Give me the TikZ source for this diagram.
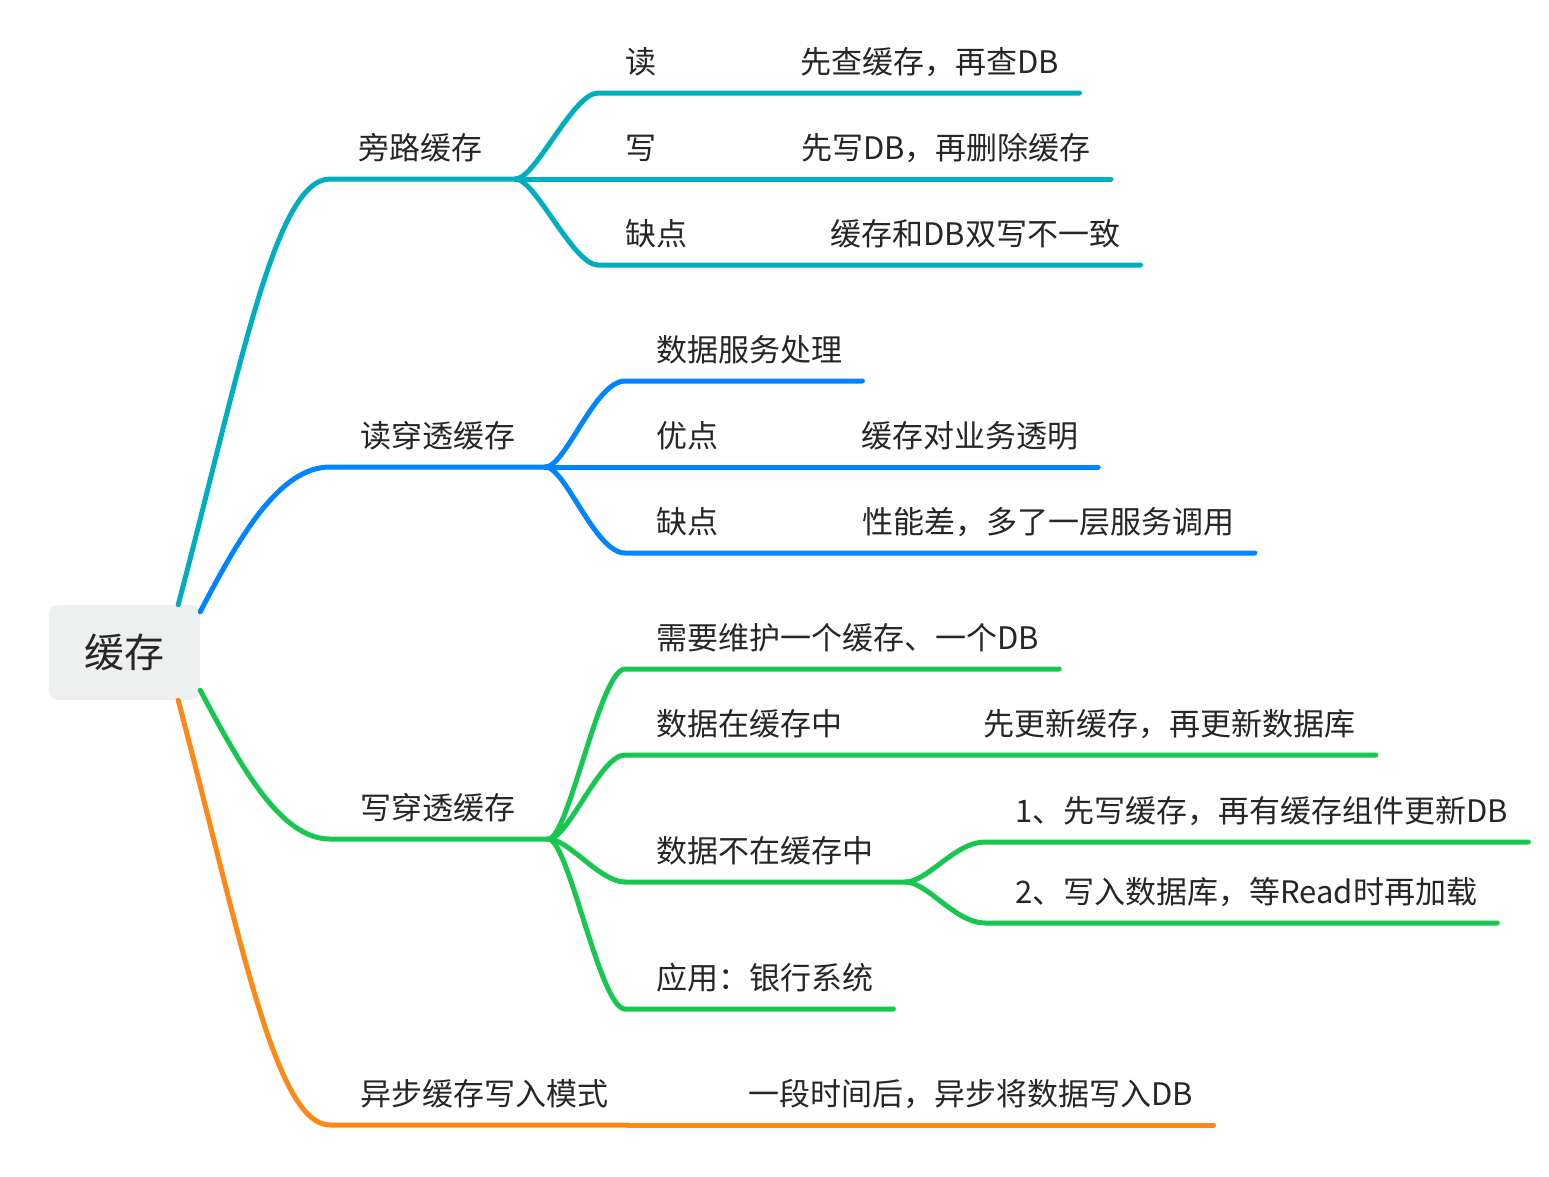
\documentclass[tikz,border=0pt]{standalone}
\usepackage{fontspec}
\usepackage{xcolor}
\newfontfamily\cjk{Noto Sans CJK SC}

\definecolor{tealc}{RGB}{0,174,193}
\definecolor{bluec}{RGB}{0,132,255}
\definecolor{greenc}{RGB}{22,200,80}
\definecolor{orangec}{RGB}{255,136,20}
\definecolor{rootfill}{RGB}{238,240,240}
\definecolor{ink}{RGB}{38,38,38}

\tikzset{
  topic/.style={anchor=south west, inner sep=0pt, text depth=19pt, text=ink,
    font={\cjk\fontsize{31}{31}\selectfont}},
  rootbox/.style={fill=rootfill, rounded corners=9pt, minimum width=151pt,
    minimum height=95pt, inner sep=0pt, text=ink, font={\cjk\fontsize{40}{40}\selectfont}},
  branch/.style={line width=5pt, line cap=round},
}

\begin{document}
\begin{tikzpicture}[x=1pt,y=-1pt]
\useasboundingbox (0,0) rectangle (1549,1176);


\node[rootbox] (root) at (124.5,652.5) {缓存};


\node[topic] (pl) at (330,179) {\rule{28pt}{0pt}旁路缓存\rule{33pt}{0pt}};
\node[topic] (dct) at (330,467) {\rule{30pt}{0pt}读穿透缓存\rule{30pt}{0pt}};
\node[topic] (xct) at (330,839) {\rule{30pt}{0pt}写穿透缓存\rule{33pt}{0pt}};
\node[topic] (yb) at (330,1125) {\rule{30pt}{0pt}异步缓存写入模式\rule{20pt}{0pt}};

\draw[branch, tealc] ([xshift=-22pt]root.north east) .. controls +(62,-235) and +(-55,0) .. (pl.south west) -- (pl.south east);
\draw[branch, bluec] ([yshift=-7pt]root.north east) .. controls +(40,-77) and +(-50,0) .. (dct.south west) -- (dct.south east);
\draw[branch, greenc] ([yshift=10pt]root.south east) .. controls +(40,75) and +(-50,0) .. (xct.south west) -- (xct.south east);
\draw[branch, orangec] ([xshift=-22pt]root.south east) .. controls +(62,235) and +(-55,0) .. (yb.south west) -- (yb.south east);


\node[topic] (du) at (598,93) {\rule{27pt}{0pt}读\rule{24pt}{0pt}};
\node[topic] (du-n) at (du.south east) {\rule{120pt}{0pt}先查缓存，再查DB\rule{20pt}{0pt}};
\node[topic] (xie) at (pl.south east) {\rule{110pt}{0pt}写\rule{24pt}{0pt}};
\node[topic] (xie-n) at (xie.south east) {\rule{120pt}{0pt}先写DB，再删除缓存\rule{20pt}{0pt}};
\node[topic] (pl-qd) at (598,265) {\rule{27pt}{0pt}缺点\rule{20pt}{0pt}};
\node[topic] (pl-qd-n) at (pl-qd.south east) {\rule{123pt}{0pt}缓存和DB双写不一致\rule{20pt}{0pt}};

\draw[branch, tealc] (pl.south east) .. controls +(20,0) and +(-25,0) .. (du.south west) -- (du-n.south east);
\draw[branch, tealc] (xie.south west) -- (xie-n.south east);
\draw[branch, tealc] (pl.south east) .. controls +(20,0) and +(-25,0) .. (pl-qd.south west) -- (pl-qd-n.south east);


\node[topic] (sj) at (625,381) {\rule{31pt}{0pt}数据服务处理\rule{20pt}{0pt}};
\node[topic] (yd) at (dct.south east) {\rule{111pt}{0pt}优点\rule{20pt}{0pt}};
\node[topic] (yd-n) at (yd.south east) {\rule{122pt}{0pt}缓存对业务透明\rule{20pt}{0pt}};
\node[topic] (dct-qd) at (625,553) {\rule{31pt}{0pt}缺点\rule{20pt}{0pt}};
\node[topic] (dct-qd-n) at (dct-qd.south east) {\rule{124pt}{0pt}性能差，多了一层服务调用\rule{20pt}{0pt}};

\draw[branch, bluec] (dct.south east) .. controls +(20,0) and +(-30,0) .. (sj.south west) -- (sj.south east);
\draw[branch, bluec] (yd.south west) -- (yd-n.south east);
\draw[branch, bluec] (dct.south east) .. controls +(20,0) and +(-30,0) .. (dct-qd.south west) -- (dct-qd-n.south east);


\node[topic] (wh) at (625,669) {\rule{31pt}{0pt}需要维护一个缓存、一个DB\rule{20pt}{0pt}};
\node[topic] (zai) at (625,755) {\rule{31pt}{0pt}数据在缓存中\rule{20pt}{0pt}};
\node[topic] (zai-n) at (zai.south east) {\rule{121pt}{0pt}先更新缓存，再更新数据库\rule{20pt}{0pt}};
\node[topic] (buzai) at (625,882) {\rule{31pt}{0pt}数据不在缓存中\rule{32pt}{0pt}};
\node[topic] (bz-a) at (985,842) {\rule{30pt}{0pt}1、先写缓存，再有缓存组件更新DB\rule{20pt}{0pt}};
\node[topic] (bz-b) at (985,923) {\rule{30pt}{0pt}2、写入数据库，等Read时再加载\rule{20pt}{0pt}};
\node[topic] (yy) at (625,1009) {\rule{31pt}{0pt}应用：银行系统\rule{20pt}{0pt}};

\draw[branch, greenc] (xct.south east) .. controls +(20,0) and +(-25,0) .. (wh.south west) -- (wh.south east);
\draw[branch, greenc] (xct.south east) .. controls +(20,0) and +(-25,0) .. (zai.south west) -- (zai-n.south east);
\draw[branch, greenc] (xct.south east) .. controls +(20,0) and +(-25,0) .. (buzai.south west) -- (buzai.south east);
\draw[branch, greenc] (xct.south east) .. controls +(20,0) and +(-25,0) .. (yy.south west) -- (yy.south east);
\draw[branch, greenc] (buzai.south east) .. controls +(22,0) and +(-30,0) .. (bz-a.south west) -- (bz-a.south east);
\draw[branch, greenc] (buzai.south east) .. controls +(22,0) and +(-30,0) .. (bz-b.south west) -- (bz-b.south east);


\node[topic] (yb-n) at (yb.south east) {\rule{120pt}{0pt}一段时间后，异步将数据写入DB\rule{20pt}{0pt}};

\draw[branch, orangec] (yb.south east) -- (yb-n.south east);

\end{tikzpicture}
\end{document}
